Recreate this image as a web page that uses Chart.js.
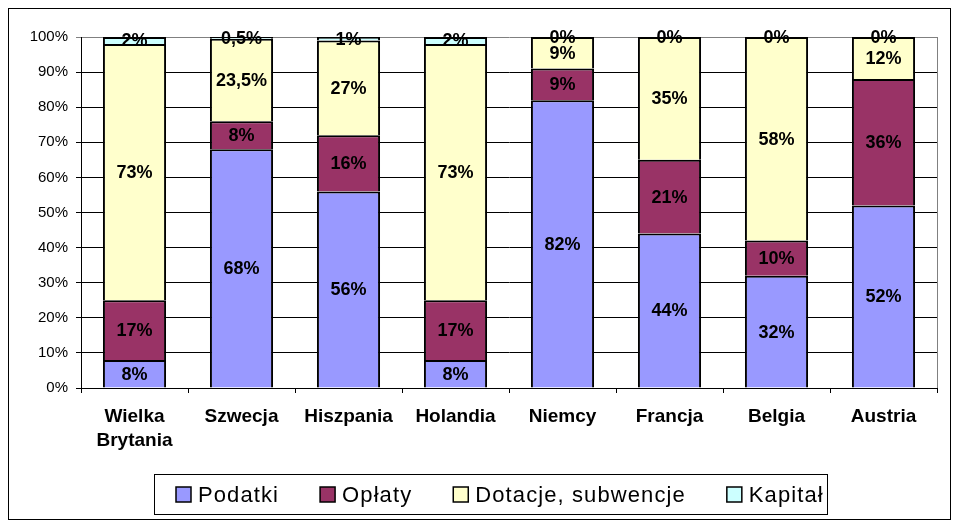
<!DOCTYPE html>
<html>
<head>
<meta charset="utf-8">
<script src="https://cdn.jsdelivr.net/npm/chart.js@4.4.1/dist/chart.umd.min.js"></script>
<style>
  html, body { margin: 0; padding: 0; background: #ffffff; }
  canvas { display: block; }
</style>
</head>
<body>
<canvas id="c" width="960" height="529"></canvas>
<script>
const categories = [["Wielka", "Brytania"], "Szwecja", "Hiszpania", "Holandia", "Niemcy", "Francja", "Belgia", "Austria"];
const seriesNames = ["Podatki", "Opłaty", "Dotacje, subwencje", "Kapitał"];
const podatki = [8, 68, 56, 8, 82, 44, 32, 52];
const oplaty = [17, 8, 16, 17, 9, 21, 10, 36];
const dotacje = [73, 23.5, 27, 73, 9, 35, 58, 12];
const kapital = [2, 0.5, 1, 2, 0, 0, 0, 0];
const seriesColors = ["#9999FF", "#993366", "#FFFFCC", "#CCFFFF"];
const yTicks = [0, 10, 20, 30, 40, 50, 60, 70, 80, 90, 100];

const FONT = '"Liberation Sans", Arial, sans-serif';
const seriesValues = [podatki, oplaty, dotacje, kapital];

const fmt = v => String(v).replace('.', ',') + '%';

const labelsPlugin = {
  id: 'segLabels',
  afterDatasetsDraw(chart) {
    const ctx = chart.ctx;
    ctx.save();
    ctx.font = 'bold 18px ' + FONT;
    ctx.fillStyle = '#000';
    ctx.textAlign = 'center';
    ctx.textBaseline = 'middle';
    chart.data.datasets.forEach((ds, di) => {
      const meta = chart.getDatasetMeta(di);
      meta.data.forEach((el, i) => {
        const y = (el.y + el.base) / 2;
        ctx.fillText(fmt(ds.data[i]), el.x, y + 1);
      });
    });
    ctx.restore();
  }
};

const framePlugin = {
  id: 'frame',
  afterDraw(chart) {
    const ctx = chart.ctx;
    const a = chart.chartArea;
    ctx.save();
    // plot right edge (gray)
    ctx.strokeStyle = '#808080';
    ctx.lineWidth = 1;
    ctx.beginPath();
    ctx.moveTo(Math.round(a.right) + 0.5, a.top);
    ctx.lineTo(Math.round(a.right) + 0.5, a.bottom);
    ctx.stroke();
    // outer border
    ctx.strokeStyle = '#000';
    ctx.strokeRect(8.5, 8.5, 942, 511);
    // legend
    const box = { x: 154.5, y: 474.5, w: 673, h: 40 };
    ctx.strokeRect(box.x, box.y, box.w, box.h);
    ctx.font = '22px ' + FONT;
    if ('letterSpacing' in ctx) ctx.letterSpacing = '1.1px';
    ctx.textBaseline = 'middle';
    ctx.textAlign = 'left';
    const sw = 15, gap = 7, spacing = 41;
    const widths = seriesNames.map(n => ctx.measureText(n).width);
    let x = box.x + 21.5;
    const cy = box.y + box.h / 2;
    seriesNames.forEach((n, i) => {
      ctx.fillStyle = seriesColors[i];
      ctx.fillRect(x, cy - sw / 2, sw, sw);
      ctx.strokeStyle = '#000';
      ctx.lineWidth = 1.5;
      ctx.strokeRect(x, cy - sw / 2, sw, sw);
      ctx.fillStyle = '#000';
      ctx.fillText(n, x + sw + gap, cy + 1);
      x += sw + gap + widths[i] + spacing;
    });
    ctx.restore();
  }
};

new Chart(document.getElementById('c'), {
  type: 'bar',
  data: {
    labels: categories,
    datasets: seriesNames.map((n, i) => ({
      label: n,
      data: seriesValues[i],
      backgroundColor: seriesColors[i],
      borderColor: '#000',
      borderWidth: 2,
      barPercentage: 0.59,
      categoryPercentage: 1.0
    }))
  },
  options: {
    responsive: false,
    animation: false,
    devicePixelRatio: 1,
    layout: { padding: { top: 37, right: 23, left: 0, bottom: 0 } },
    plugins: { legend: { display: false }, tooltip: { enabled: false } },
    scales: {
      x: {
        stacked: true,
        afterFit(s) { s.height = 141; },
        grid: { offset: true, drawOnChartArea: false, drawTicks: true, tickLength: 5, color: '#000' },
        border: { color: '#000', width: 1 },
        ticks: { color: '#000', padding: 12, font: { family: FONT, size: 19, weight: 'bold', lineHeight: 1.26 }, maxRotation: 0, autoSkip: false }
      },
      y: {
        stacked: true,
        min: 0, max: 100,
        afterFit(s) { s.width = 81; },
        afterBuildTicks(s) { s.ticks = yTicks.map(v => ({ value: v })); },
        grid: { color: c => (c.tick && c.tick.value === 100 ? '#808080' : '#000'), tickLength: 5, drawTicks: true },
        border: { color: '#000', width: 1 },
        ticks: { color: '#000', padding: 8, font: { family: FONT, size: 15 }, callback: v => v + '%' }
      }
    }
  },
  plugins: [labelsPlugin, framePlugin]
});
</script>
</body>
</html>
